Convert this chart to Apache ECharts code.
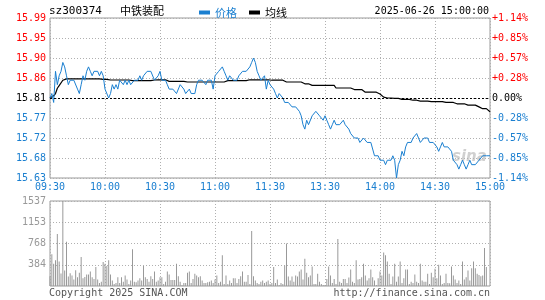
<!DOCTYPE html>
<html><head><meta charset="utf-8">
<script src="https://cdn.jsdelivr.net/npm/echarts@6/dist/echarts.min.js"></script>
<style>html,body{margin:0;padding:0;background:#fff}#c{width:545px;height:300px}</style>
</head><body><div id="c"></div><script>
const stockCode = 'sz300374';
const stockName = '中铁装配';
const dateTime = '2025-06-26 15:00:00';
const prevClose = 15.81;
const priceTicks = [15.63, 15.675, 15.72, 15.765, 15.81, 15.855, 15.90, 15.945, 15.99];
const priceTickLabels = ['15.63','15.68','15.72','15.77','15.81','15.86','15.90','15.95','15.99'];
const pctTickLabels = ['-1.14%','-0.85%','-0.57%','-0.28%','0.00%','+0.28%','+0.57%','+0.85%','+1.14%'];
const volTicks = [384.25, 768.5, 1152.75, 1537];
const volTickLabels = ['384','768','1153','1537'];
const timeTickLabels = ['09:30','10:00','10:30','11:00','11:30','13:30','14:00','14:30','15:00'];

const price = [
15.81,15.82,15.80,15.87,15.84,15.86,15.87,15.89,15.88,15.86,
15.84,15.85,15.85,15.85,15.85,15.83,15.82,15.84,15.86,15.85,
15.87,15.88,15.87,15.86,15.87,15.87,15.87,15.86,15.87,15.86,
15.83,15.83,15.81,15.82,15.84,15.83,15.84,15.83,15.85,15.85,
15.84,15.85,15.84,15.85,15.84,15.84,15.85,15.85,15.85,15.86,
15.85,15.86,15.86,15.87,15.87,15.87,15.87,15.85,15.85,15.86,
15.87,15.85,15.85,15.85,15.84,15.83,15.83,15.83,15.83,15.82,
15.82,15.84,15.84,15.83,15.82,15.82,15.83,15.82,15.82,15.82,
15.84,15.85,15.85,15.85,15.85,15.84,15.85,15.85,15.85,15.83,
15.86,15.86,15.87,15.87,15.88,15.87,15.86,15.85,15.86,15.86,
15.85,15.85,15.85,15.86,15.86,15.87,15.87,15.87,15.87,15.88,
15.89,15.90,15.89,15.87,15.86,15.85,15.85,15.86,15.83,15.85,
15.84,
15.84,15.83,15.82,15.81,15.82,15.82,15.81,15.80,15.80,15.80,
15.80,15.79,15.79,15.79,15.79,15.78,15.77,15.75,15.74,15.76,
15.75,15.75,15.77,15.77,15.78,15.78,15.77,15.77,15.76,15.77,
15.76,15.75,15.74,15.75,15.76,15.75,15.75,15.75,15.75,15.76,
15.75,15.75,15.74,15.73,15.73,15.72,15.72,15.72,15.71,15.71,
15.72,15.72,15.71,15.71,15.71,15.71,15.68,15.68,15.68,15.67,
15.67,15.67,15.66,15.67,15.67,15.67,15.68,15.67,15.63,15.66,
15.67,15.69,15.68,15.70,15.71,15.71,15.71,15.72,15.72,15.73,
15.72,15.71,15.71,15.72,15.72,15.72,15.71,15.71,15.71,15.71,
15.70,15.69,15.70,15.71,15.70,15.70,15.70,15.70,15.69,15.67,
15.67,15.66,15.65,15.66,15.67,15.66,15.65,15.66,15.67,15.66,
15.66,15.66,15.66,15.67,15.67,15.68,15.68,15.68,15.68,15.68
];

const avgPrice = [
15.810,15.813,15.815,15.820,15.832,15.838,15.842,15.850,15.853,15.853,
15.853,15.853,15.853,15.853,15.853,15.853,15.853,15.853,15.853,15.853,
15.853,15.853,15.853,15.853,15.853,15.853,15.853,15.853,15.853,15.852,
15.852,15.852,15.852,15.8505,15.8505,15.8505,15.8505,15.8505,15.8505,15.8505,
15.8505,15.8505,15.8505,15.8505,15.8505,15.849,15.849,15.849,15.849,15.849,
15.849,15.849,15.849,15.849,15.849,15.849,15.8505,15.8505,15.8505,15.851,
15.851,15.851,15.851,15.851,15.851,15.8475,15.8475,15.8475,15.8475,15.8475,
15.8475,15.8475,15.8475,15.8475,15.8475,15.846,15.846,15.846,15.846,15.846,
15.846,15.846,15.846,15.846,15.846,15.846,15.846,15.846,15.846,15.846,
15.846,15.846,15.846,15.846,15.846,15.846,15.846,15.849,15.849,15.849,
15.849,15.849,15.849,15.849,15.849,15.849,15.849,15.849,15.849,15.851,
15.851,15.851,15.851,15.851,15.851,15.851,15.851,15.851,15.851,15.851,
15.851,
15.850,15.850,15.850,15.850,15.850,15.850,15.850,15.850,15.846,15.846,
15.846,15.846,15.846,15.846,15.846,15.846,15.846,15.842,15.842,15.842,
15.842,15.8385,15.8385,15.8385,15.8385,15.8385,15.8385,15.8385,15.8385,15.8385,
15.8385,15.8385,15.8385,15.8385,15.8385,15.8325,15.8325,15.8325,15.8325,15.8325,
15.8325,15.8325,15.8325,15.8325,15.8325,15.829,15.829,15.829,15.829,15.829,
15.829,15.823,15.823,15.823,15.823,15.823,15.823,15.823,15.820,15.819,
15.816,15.812,15.810,15.810,15.810,15.810,15.810,15.809,15.809,15.809,
15.809,15.807,15.807,15.807,15.807,15.807,15.805,15.805,15.805,15.805,
15.805,15.803,15.803,15.803,15.803,15.803,15.803,15.802,15.802,15.802,
15.802,15.802,15.802,15.802,15.800,15.800,15.800,15.800,15.800,15.800,
15.800,15.797,15.797,15.797,15.797,15.797,15.797,15.794,15.794,15.794,
15.794,15.794,15.790,15.790,15.790,15.786,15.786,15.786,15.782,15.779
];

const volume = [
177,573,403,464,939,445,226,1537,281,800,
171,232,189,116,287,159,238,525,140,165,
207,207,262,159,128,342,116,55,79,433,
403,360,464,207,98,37,55,159,55,159,
79,189,116,37,98,665,79,67,98,140,
98,360,159,128,79,177,128,262,79,98,
159,159,37,79,262,207,110,110,110,403,
177,79,18,55,55,238,262,55,128,220,
189,159,177,98,55,55,67,79,98,55,
116,189,55,79,555,37,189,37,98,55,
140,140,55,128,177,262,79,79,201,37,
994,177,98,55,37,79,98,55,79,98,
37,
55,342,55,116,18,55,37,372,769,171,
98,171,79,189,171,262,299,116,494,238,
159,189,354,37,37,220,79,37,18,18,
128,354,189,55,128,37,848,79,55,128,
128,55,153,299,79,55,464,116,128,159,
403,189,98,140,299,159,98,18,140,262,
189,604,555,445,220,37,171,403,79,171,
445,55,140,299,299,37,79,55,207,79,
55,403,98,79,79,220,37,238,159,311,
140,384,189,37,55,220,55,49,354,189,
116,55,98,37,445,116,159,281,98,323,
445,323,220,201,177,189,689,342,0,0
];

// minute categories 09:30-11:30, 13:01-15:00
const times = [];
function pad(n){return (n<10?'0':'')+n;}
for (let t = 9*60+30; t <= 11*60+30; t++) times.push(pad(Math.floor(t/60))+':'+pad(t%60));
for (let t = 13*60+1; t <= 15*60; t++) times.push(pad(Math.floor(t/60))+':'+pad(t%60));

const RED = '#ff0000', BLUE = '#1a7fd0', GRID = '#b0b0b0', BORDER = '#9a9a9a';
const MONO = 'DejaVu Sans Mono';
function tickIdx(arr, v){ let b=0, d=1e9; arr.forEach((t,i)=>{const dd=Math.abs(t-v); if(dd<d){d=dd;b=i;}}); return b; }
function priceColor(v){ const i = tickIdx(priceTicks, v); return i>4?RED:(i<4?BLUE:'#000'); }

const chart = echarts.init(document.getElementById('c'), null, {renderer:'canvas'});
const splitX = { show:true, interval:(i)=> i%30===0, lineStyle:{color:GRID, type:[1,2], width:1} };
chart.setOption({
  animation:false,
  backgroundColor:'#fff',
  legend:{
    left:199, top:7, itemWidth:11, itemHeight:4, itemGap:12, padding:0, icon:'rect',
    textStyle:{fontSize:11, fontFamily:'Noto Sans CJK SC'},
    data:[{name:'价格', textStyle:{color:BLUE}},{name:'均线', textStyle:{color:'#000'}}]
  },
  grid:[
    {left:50, width:440, top:18, height:160, show:true, borderColor:BORDER, borderWidth:1, backgroundColor:'transparent'},
    {left:50, width:440, top:201, height:85, show:true, borderColor:BORDER, borderWidth:1, backgroundColor:'transparent'}
  ],
  xAxis:[
    {type:'category', gridIndex:0, data:times, boundaryGap:false,
     axisLine:{show:false}, axisTick:{show:false}, splitLine:splitX,
     axisLabel:{interval:(i)=> i%30===0, formatter:(v,i)=> timeTickLabels[Math.round(i/30)], color:BLUE, fontFamily:MONO, fontSize:10, margin:4, showMinLabel:true, showMaxLabel:true, hideOverlap:false}},
    {type:'category', gridIndex:1, data:times, boundaryGap:false,
     axisLine:{show:false}, axisTick:{show:false}, splitLine:splitX, axisLabel:{show:false}}
  ],
  yAxis:[
    {type:'value', gridIndex:0, min:15.63, max:15.99, position:'left',
     axisLine:{show:false}, axisTick:{show:false, customValues:priceTicks},
     splitLine:{show:true, lineStyle:{color:GRID, type:[1,2], width:1}},
     axisLabel:{customValues:priceTicks, formatter:(v)=>priceTickLabels[tickIdx(priceTicks,v)], color:(v)=>priceColor(v), fontFamily:MONO, fontSize:10, margin:4}},
    {type:'value', gridIndex:0, min:15.63, max:15.99, position:'right',
     axisLine:{show:false}, axisTick:{show:false, customValues:priceTicks}, splitLine:{show:false},
     axisLabel:{customValues:priceTicks, formatter:(v)=>pctTickLabels[tickIdx(priceTicks,v)], color:(v)=>priceColor(v), fontFamily:MONO, fontSize:10, margin:2}},
    {type:'value', gridIndex:1, min:0, max:1537,
     axisLine:{show:false}, axisTick:{show:false, customValues:volTicks},
     splitLine:{show:true, lineStyle:{color:GRID, type:[1,2], width:1}},
     axisLabel:{customValues:volTicks, formatter:(v)=>volTickLabels[tickIdx(volTicks,v)], color:'#999', fontFamily:MONO, fontSize:10, margin:4}}
  ],
  series:[
    {name:'价格', type:'line', xAxisIndex:0, yAxisIndex:0, data:price, symbol:'none', step:false,
     lineStyle:{color:BLUE, width:1}, itemStyle:{color:BLUE}, z:3,
     markLine:{silent:true, symbol:'none', label:{show:false}, lineStyle:{color:'#000', type:[2,2], width:1},
       data:[{yAxis:prevClose}]}},
    {name:'均线', type:'line', xAxisIndex:0, yAxisIndex:0, data:avgPrice, symbol:'none',
     lineStyle:{color:'#000', width:1.2}, itemStyle:{color:'#000'}, z:2},
    {name:'成交量', type:'bar', xAxisIndex:1, yAxisIndex:2, data:volume, barWidth:1,
     itemStyle:{color:'#999'}}
  ],
  graphic:[
    {type:'text', left:49, top:6, style:{text:stockCode, font:'11px "DejaVu Sans Mono"', fill:'#000'}},
    {type:'text', left:120, top:5, style:{text:stockName, font:'11px "Noto Sans CJK SC"', fill:'#000'}},
    {type:'text', right:56, top:6, style:{text:dateTime, font:'10px "DejaVu Sans Mono"', fill:'#000'}},
    {type:'text', left:49, top:288, style:{text:'Copyright 2025 SINA.COM', font:'10px "DejaVu Sans Mono"', fill:'#555'}},
    {type:'text', right:55, top:288, style:{text:'http://finance.sina.com.cn', font:'10px "DejaVu Sans Mono"', fill:'#555'}},
    {type:'text', left:452, top:150, z:0, style:{text:'sina', font:'italic bold 15px "DejaVu Sans"', fill:'rgba(150,150,150,0.45)'}}
  ]
});
</script></body></html>
